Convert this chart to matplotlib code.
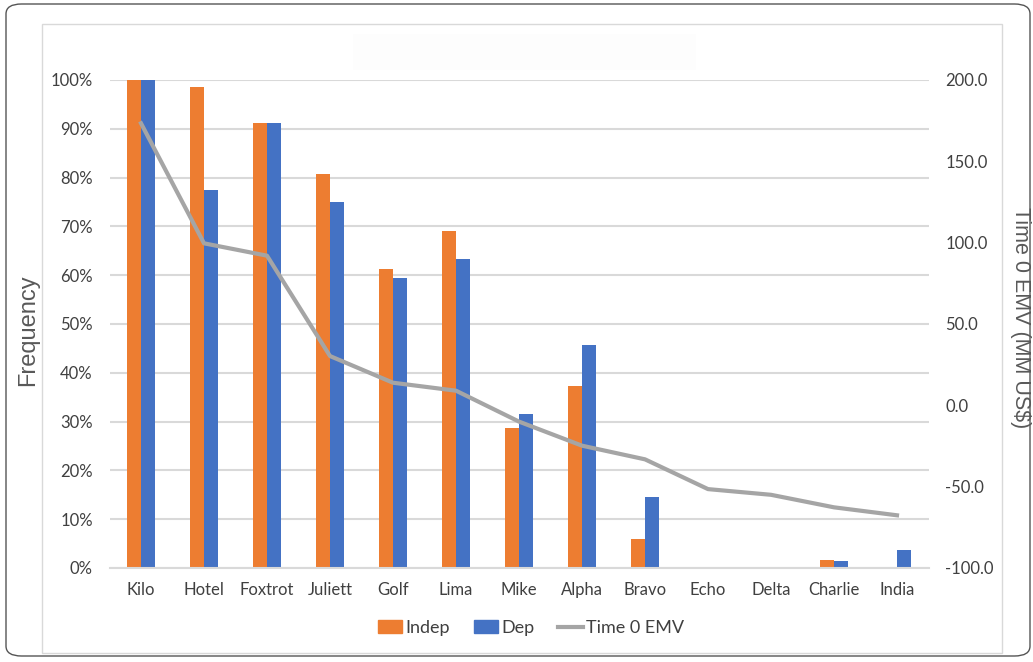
import matplotlib
matplotlib.use("Agg")
import matplotlib.pyplot as plt
import numpy as np
from matplotlib.patches import FancyBboxPatch, Rectangle
from matplotlib.lines import Line2D

categories = ["Kilo", "Hotel", "Foxtrot", "Juliett", "Golf", "Lima", "Mike",
              "Alpha", "Bravo", "Echo", "Delta", "Charlie", "India"]
indep = [100.0, 98.5, 91.1, 80.7, 61.2, 69.1, 28.6, 37.3, 6.0, 0.0, 0.0, 1.7, 0.0]
dep = [100.0, 77.5, 91.1, 75.1, 59.5, 63.3, 31.6, 45.6, 14.5, 0.0, 0.0, 1.4, 3.7]
emv = [173.4, 99.6, 92.0, 30.3, 13.9, 9.0, -10.0, -24.8, -33.2, -51.5, -55.0, -62.7, -67.6]

freq_ticks = list(range(0, 101, 10))
emv_ticks = [-100, -50, 0, 50, 100, 150, 200]

ORANGE = "#ED7D31"
BLUE = "#4472C4"
GRAY_LINE = "#A5A5A5"
GRID = "#D9D9D9"
TEXT = "#404040"
TICK_FONT = "Lato"
TITLE_FONT = "Liberation Sans"

W, H = 1033, 662
fig = plt.figure(figsize=(W / 100, H / 100), dpi=100)

# Frames around the chart
outer = FancyBboxPatch((6 / W, 6 / H), 1024 / W, 652 / H,
                       boxstyle="round,pad=0,rounding_size=0.015",
                       transform=fig.transFigure, fill=False,
                       edgecolor="#555555", linewidth=1.0)
fig.patches.append(outer)
inner = Rectangle((42 / W, (H - 653) / H), 960 / W, 629 / H,
                  transform=fig.transFigure, fill=False,
                  edgecolor=GRID, linewidth=1.0)
fig.patches.append(inner)
title_box = Rectangle((353 / W, (H - 70) / H), 343 / W, 36 / H,
                      transform=fig.transFigure, facecolor="#FDFDFD",
                      edgecolor="none")
fig.patches.append(title_box)

left, right = 109.5, 928.5
top, bottom = 80, 568
ax = fig.add_axes([left / W, 1 - bottom / H, (right - left) / W, (bottom - top) / H])
ax.set_facecolor("none")

x = np.arange(len(categories))
w = 14 / 63
ax.bar(x - w / 2, indep, width=w, color=ORANGE, zorder=2, label="Indep")
ax.bar(x + w / 2, dep, width=w, color=BLUE, zorder=2, label="Dep")

ax.set_xlim(-0.5, len(categories) - 0.5)
ax.set_ylim(0, 100)
ax.set_yticks(freq_ticks)
ax.set_yticklabels([f"{t}%" for t in freq_ticks])
ax.set_xticks(x)
ax.set_xticklabels(categories)
ax.yaxis.grid(True, color=GRID, linewidth=1.5, zorder=0)
ax.set_axisbelow(True)
for s in ["top", "right", "left"]:
    ax.spines[s].set_visible(False)
ax.spines["bottom"].set_color(GRID)
ax.spines["bottom"].set_linewidth(1.5)
ax.spines["bottom"].set_zorder(3)
ax.tick_params(axis="both", length=0, labelsize=12, labelcolor=TEXT)
ax.tick_params(axis="y", pad=12)
ax.tick_params(axis="x", pad=10)
for lbl in ax.get_xticklabels() + ax.get_yticklabels():
    lbl.set_fontfamily(TICK_FONT)

ax2 = ax.twinx()
ax2.plot(x, emv, color=GRAY_LINE, linewidth=3.0, zorder=4,
         solid_joinstyle="round", label="Time 0 EMV")
ax2.set_ylim(-100, 200)
ax2.set_yticks(emv_ticks)
ax2.set_yticklabels([f"{t:.1f}" for t in emv_ticks])
for s in ax2.spines.values():
    s.set_visible(False)
ax2.tick_params(axis="y", length=0, labelsize=12, labelcolor=TEXT, pad=12)
for lbl in ax2.get_yticklabels():
    lbl.set_fontfamily(TICK_FONT)

fig.text(28 / W, 1 - 330 / H, "Frequency", rotation=90, ha="center", va="center",
         fontsize=17, color="#595959", family=TITLE_FONT)
fig.text(1021 / W, 1 - 318 / H, "Time 0 EMV (MM US$)", rotation=-90,
         ha="center", va="center", fontsize=15.5, color="#595959", family=TITLE_FONT)

handles = [Rectangle((0, 0), 1, 1, color=ORANGE),
           Rectangle((0, 0), 1, 1, color=BLUE),
           Line2D([0], [0], color=GRAY_LINE, linewidth=3.0)]
leg = fig.legend(handles, ["Indep", "Dep", "Time 0 EMV"], loc="center",
                 bbox_to_anchor=(531 / W, 1 - 628 / H), ncol=3, frameon=False,
                 handlelength=1.35, handleheight=0.7, handletextpad=0.2,
                 columnspacing=1.3, prop={"family": TICK_FONT, "size": 13})
for t in leg.get_texts():
    t.set_color(TEXT)

fig.savefig("out.png", dpi=100)
